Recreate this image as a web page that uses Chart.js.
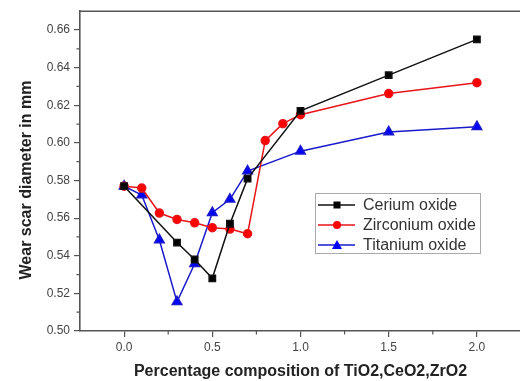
<!DOCTYPE html>
<html><head><meta charset="utf-8">
<script src="https://cdn.jsdelivr.net/npm/chart.js@4.4.1/dist/chart.umd.min.js"></script>
<style>html,body{margin:0;padding:0;overflow:hidden;background:#fff;width:520px;height:381px}#c{display:block}</style>
</head><body><canvas id="c" width="540" height="381" style="width:540px;height:381px"></canvas>
<script>
const ceriumX = [0, 0.3, 0.4, 0.5, 0.6, 0.7, 1.0, 1.5, 2.0];
const ceriumY = [0.577, 0.547, 0.538, 0.528, 0.557, 0.581, 0.617, 0.636, 0.655];
const zirconiumX = [0, 0.1, 0.2, 0.3, 0.4, 0.5, 0.6, 0.7, 0.8, 0.9, 1.0, 1.5, 2.0];
const zirconiumY = [0.577, 0.576, 0.5627, 0.5593, 0.5575, 0.5549, 0.5542, 0.5517, 0.6012, 0.6102, 0.615, 0.6262, 0.632];
const titaniumX = [0, 0.1, 0.2, 0.3, 0.4, 0.5, 0.6, 0.7, 1.0, 1.5, 2.0];
const titaniumY = [0.577, 0.5723, 0.5484, 0.5155, 0.5357, 0.5629, 0.570, 0.585, 0.5956, 0.6058, 0.6086];
const seriesNames = ['Cerium oxide', 'Zirconium oxide', 'Titanium oxide'];
const xTicks = [0, 0.5, 1.0, 1.5, 2.0];
const xMinorTicks = [0.25, 0.75, 1.25, 1.75];
const yTicks = [0.50, 0.52, 0.54, 0.56, 0.58, 0.60, 0.62, 0.64, 0.66];
const yMinorTicks = [0.51, 0.53, 0.55, 0.57, 0.59, 0.61, 0.63, 0.65];
const xTitle = 'Percentage composition of TiO2,CeO2,ZrO2';
const yTitle = 'Wear scar diameter in mm';

function pts(xs, ys){ return xs.map((x,i)=>({x:x, y:ys[i]})); }

const axisColor = '#555';
const fam = '"Liberation Sans", Arial, sans-serif';

const framePlugin = {
  id: 'frame',
  afterDraw(chart){
    const {ctx, chartArea:a, scales} = chart;
    ctx.save();
    ctx.strokeStyle = axisColor;
    ctx.lineWidth = 1.6;
    ctx.beginPath();
    ctx.moveTo(a.left, a.top); ctx.lineTo(a.right, a.top);
    ctx.moveTo(a.right, a.top); ctx.lineTo(a.right, a.bottom);
    ctx.stroke();
    ctx.lineWidth = 1.2;
    ctx.beginPath();
    xMinorTicks.forEach(v=>{ const px = scales.x.getPixelForValue(v); ctx.moveTo(px, a.bottom); ctx.lineTo(px, a.bottom+3.5); });
    yMinorTicks.forEach(v=>{ const py = scales.y.getPixelForValue(v); ctx.moveTo(a.left, py); ctx.lineTo(a.left-3.5, py); });
    ctx.stroke();
    // y axis title
    ctx.save();
    ctx.translate(27, 180);
    ctx.rotate(-Math.PI/2);
    ctx.fillStyle = '#222';
    ctx.font = 'bold 16px ' + fam;
    ctx.textAlign = 'center'; ctx.textBaseline = 'middle';
    ctx.fillText(yTitle, 0, 0);
    ctx.restore();
    // legend
    const lx = 315, ly = 193, lw = 165, lh = 60;
    ctx.fillStyle = '#fff';
    ctx.fillRect(lx, ly, lw, lh);
    ctx.strokeStyle = '#aaa'; ctx.lineWidth = 1;
    ctx.strokeRect(lx+0.5, ly+0.5, lw, lh);
    chart.data.datasets.forEach((ds, i)=>{
      const cy = 205 + i*20;
      ctx.strokeStyle = ds.borderColor; ctx.lineWidth = 1.5;
      ctx.beginPath(); ctx.moveTo(318, cy); ctx.lineTo(355, cy); ctx.stroke();
      ctx.fillStyle = ds.backgroundColor;
      const mx = 337;
      if (ds.pointStyle === 'rect') ctx.fillRect(mx-3.5, cy-3.5, 7, 7);
      else if (ds.pointStyle === 'circle') { ctx.beginPath(); ctx.arc(mx, cy, 4, 0, Math.PI*2); ctx.fill(); }
      else { ctx.beginPath(); ctx.moveTo(mx, cy-5); ctx.lineTo(mx+5, cy+4); ctx.lineTo(mx-5, cy+4); ctx.closePath(); ctx.fill(); }
      ctx.fillStyle = '#333';
      ctx.font = '16px ' + fam;
      ctx.textBaseline = 'middle'; ctx.textAlign = 'left';
      ctx.fillText(ds.label, 363, cy+1);
    });
    ctx.restore();
  }
};

new Chart(document.getElementById('c'), {
  type: 'scatter',
  data: {
    datasets: [
      {label: seriesNames[0], data: pts(ceriumX, ceriumY), showLine: true, borderColor: '#111', backgroundColor: '#000', borderWidth: 1.5, pointStyle: 'rect', pointRadius: 4.5, pointHoverRadius: 4.5},
      {label: seriesNames[1], data: pts(zirconiumX, zirconiumY), showLine: true, borderColor: '#e8141a', backgroundColor: '#ff0000', borderWidth: 1.5, pointStyle: 'circle', pointRadius: 4, pointHoverRadius: 4},
      {label: seriesNames[2], data: pts(titaniumX, titaniumY), showLine: true, borderColor: '#1a1acc', backgroundColor: '#0000ff', borderWidth: 1.5, pointStyle: 'triangle', pointRadius: 5.5, pointHoverRadius: 5.5}
    ]
  },
  options: {
    responsive: false,
    animation: false,
    layout: {padding: {top: 9, right: 19, left: 0, bottom: 0}},
    plugins: {legend: {display: false}, tooltip: {enabled: false}},
    scales: {
      x: {
        type: 'linear', min: -0.25, max: 2.25,
        afterBuildTicks: s => { s.ticks = xTicks.map(v=>({value:v})); },
        afterFit: s => { s.height = 50; },
        grid: {display: true, drawOnChartArea: false, drawTicks: true, tickLength: 6, color: axisColor, lineWidth: 1.2},
        border: {display: true, color: axisColor, width: 1.6},
        ticks: {color: '#444', padding: 3, font: {size: 12, family: fam}, callback: v => Number(v).toFixed(1), maxRotation: 0},
        title: {display: true, text: xTitle, color: '#222', padding: {top: 0, bottom: 0}, font: {size: 16, weight: 'bold', family: fam}}
      },
      y: {
        type: 'linear', min: 0.50, max: 0.67,
        afterBuildTicks: s => { s.ticks = yTicks.map(v=>({value:v})); },
        afterFit: s => { s.width = 80; },
        grid: {display: true, drawOnChartArea: false, drawTicks: true, tickLength: 6, color: axisColor, lineWidth: 1.2},
        border: {display: true, color: axisColor, width: 1.6},
        ticks: {color: '#444', padding: 4, font: {size: 12, family: fam}, callback: v => Number(v).toFixed(2)},
        title: {display: false, text: yTitle}
      }
    }
  },
  plugins: [framePlugin]
});
</script></body></html>
